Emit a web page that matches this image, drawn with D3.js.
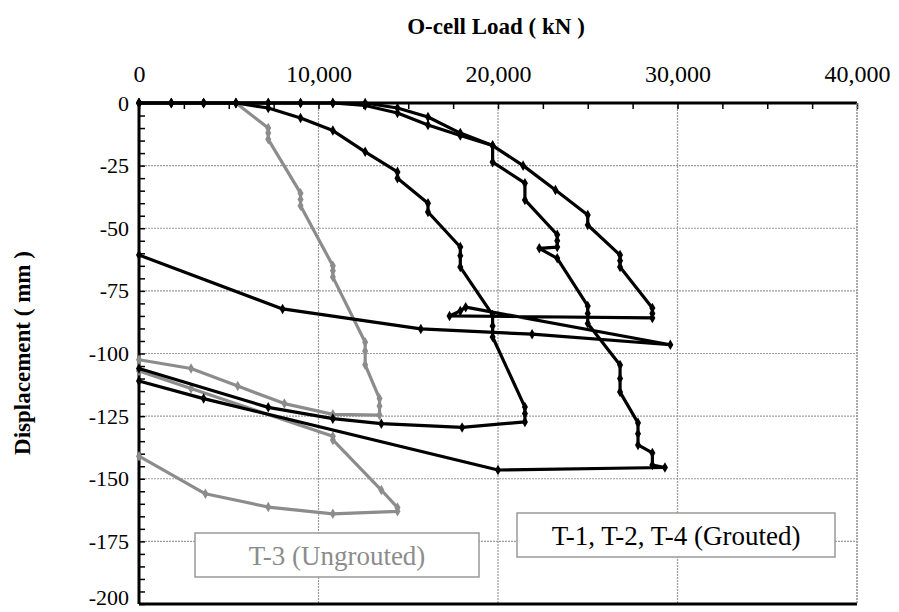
<!DOCTYPE html>
<html>
<head>
<meta charset="utf-8">
<script src="https://cdn.jsdelivr.net/npm/d3@7"></script>
<style>
  body { margin: 0; background: #fff; }
  svg { font-family: "Liberation Serif", "Times New Roman", serif; }
</style>
</head>
<body>
<svg width="899" height="612"></svg>
<script>
// O-cell load (kN) vs displacement (mm)
const loadTicks = [0, 10000, 20000, 30000, 40000];
const dispTicks = [0, -25, -50, -75, -100, -125, -150, -175, -200];

// grouted piles (black)
const t1Load = [0, 1800, 3600, 5400, 7200, 9000, 10800, 12600, 14400, 14400, 16100, 16100, 17900, 17900, 17900, 19700, 19700, 19700, 21500, 21500, 21500, 18000, 13500, 10800, 7200, 0];
const t1Disp = [0, 0, 0, 0, -2, -6, -11, -19.5, -27.5, -30, -40, -43.5, -57.5, -61, -65.5, -84.6, -89, -93.4, -121.4, -124, -127.3, -129.5, -128, -126, -121.5, -106];

const t2Load = [0, 1800, 3600, 5400, 7200, 9000, 10800, 12600, 14400, 16100, 17900, 19700, 19700, 21500, 21500, 23300, 23300, 23300, 22300, 23300, 25000, 25000, 25000, 26800, 26800, 26800, 27800, 27800, 27800, 28600, 28600, 29300, 20000, 3600, 0];
const t2Disp = [0, 0, 0, 0, 0, 0, 0, -1, -4, -8.8, -13, -17, -23.6, -32, -38.7, -52.6, -55, -57.5, -58, -62, -81, -84, -88, -104.6, -110, -115.4, -127.7, -132, -136.5, -139.7, -144.5, -145.5, -146.5, -118, -111];

const t4Load = [0, 1800, 3600, 5400, 7200, 9000, 10800, 12600, 14400, 16100, 17900, 19700, 21400, 23200, 25000, 25000, 26800, 26800, 26800, 28600, 28600, 28600, 17300, 17900, 18200, 29600, 21900, 15700, 8000, 0];
const t4Disp = [0, 0, 0, 0, 0, 0, 0, 0, -2, -5.6, -12, -17, -25, -34.7, -44.7, -48.7, -60.7, -63, -65.5, -81.8, -84, -85.8, -85, -83, -81.5, -96.5, -92.3, -90.2, -82.2, -60.7];

// ungrouted pile (grey)
const t3Load = [0, 1800, 3600, 5400, 7200, 7200, 7200, 9000, 9000, 9000, 10800, 10800, 10800, 12600, 12600, 12600, 13400, 13400, 13400, 10800, 8100, 5500, 2900, 0, 0, 2900, 10800, 10800, 13500, 14400, 14400, 10800, 7200, 3700, 0];
const t3Disp = [0, 0, 0, 0, -10, -12, -14.5, -36, -38.5, -41, -65, -67, -69.5, -95.5, -99, -104.5, -118, -121, -124.6, -124.3, -120, -113, -106, -102.5, -107, -114, -133, -134.5, -154.5, -161.5, -163, -164, -161.3, -156, -141];

const svg = d3.select("svg");
const pLeft = 139, pRight = 857, pTop = 103, pBottom = 604;

const x = d3.scaleLinear().domain([0, 40000]).range([pLeft, pRight]);
const y = d3.scaleLinear().domain([0, -200]).range([pTop, pBottom]);

// grid
const grid = svg.append("g");
grid.selectAll(".gx")
    .data(loadTicks.slice(1))
    .join("line")
    .attr("x1", d => x(d)).attr("x2", d => x(d))
    .attr("y1", pTop).attr("y2", pBottom)
    .attr("stroke", "#9a9a9a").attr("stroke-width", 1.2)
    .attr("stroke-dasharray", "2,1");
grid.selectAll(".gy")
    .data(dispTicks.slice(1, -1))
    .join("line")
    .attr("x1", pLeft).attr("x2", pRight)
    .attr("y1", d => y(d)).attr("y2", d => y(d))
    .attr("stroke", "#9a9a9a").attr("stroke-width", 1.2)
    .attr("stroke-dasharray", "2,1");

// minor ticks (inward)
svg.append("g")
    .attr("transform", `translate(0,${pTop})`)
    .call(d3.axisTop(x).tickValues(d3.range(0, 40001, 2500)).tickSize(-6).tickFormat(""))
    .call(g => g.select(".domain").remove())
    .selectAll("line").attr("stroke", "#000").attr("stroke-width", 1.5);
svg.append("g")
    .attr("transform", `translate(${pLeft},0)`)
    .call(d3.axisLeft(y).tickValues(d3.range(0, -201, -5)).tickSize(-6).tickFormat(""))
    .call(g => g.select(".domain").remove())
    .selectAll("line").attr("stroke", "#000").attr("stroke-width", 1.5);

// tick labels
svg.append("g")
    .attr("transform", `translate(0,${pTop})`)
    .call(d3.axisTop(x).tickValues(loadTicks).tickSize(0).tickPadding(21).tickFormat(d3.format(",")))
    .call(g => g.select(".domain").remove())
    .selectAll("text").attr("font-size", 24).attr("fill", "#000")
    .attr("font-family", "Liberation Serif, Times New Roman, serif");
svg.append("g")
    .attr("transform", `translate(${pLeft},0)`)
    .call(d3.axisLeft(y).tickValues(dispTicks).tickSize(0).tickPadding(10).tickFormat(d => d === 0 ? "0" : "-" + Math.abs(d)))
    .call(g => g.select(".domain").remove())
    .selectAll("text").attr("font-size", 22).attr("fill", "#000")
    .attr("dy", d => d === -200 ? "0em" : "0.32em")
    .attr("font-family", "Liberation Serif, Times New Roman, serif");

// frame
svg.append("line").attr("x1", pLeft).attr("x2", pRight).attr("y1", pTop).attr("y2", pTop)
    .attr("stroke", "#000").attr("stroke-width", 3);
svg.append("line").attr("x1", pLeft).attr("x2", pLeft).attr("y1", pTop).attr("y2", pBottom)
    .attr("stroke", "#000").attr("stroke-width", 3);
svg.append("line").attr("x1", pLeft).attr("x2", pRight).attr("y1", pBottom).attr("y2", pBottom)
    .attr("stroke", "#000").attr("stroke-width", 3);
svg.append("line").attr("x1", pRight).attr("x2", pRight).attr("y1", pTop).attr("y2", pBottom)
    .attr("stroke", "#9a9a9a").attr("stroke-width", 1.2).attr("stroke-dasharray", "2,1");

// titles
svg.append("text")
    .attr("x", 496).attr("y", 34)
    .attr("text-anchor", "middle")
    .attr("font-size", 23).attr("font-weight", "bold")
    .text("O-cell Load ( kN )");
svg.append("text")
    .attr("transform", "translate(30,353) rotate(-90)")
    .attr("text-anchor", "middle")
    .attr("font-size", 23).attr("font-weight", "bold")
    .text("Displacement ( mm )");

// series
const series = [
    { load: t3Load, disp: t3Disp, color: "#8c8c8c" },
    { load: t1Load, disp: t1Disp, color: "#000" },
    { load: t2Load, disp: t2Disp, color: "#000" },
    { load: t4Load, disp: t4Disp, color: "#000" }
];

const line = d3.line().x(d => x(d[0])).y(d => y(d[1]));

series.forEach(s => {
    const pts = s.load.map((v, i) => [v, s.disp[i]]);
    svg.append("path")
        .datum(pts)
        .attr("d", line)
        .attr("fill", "none")
        .attr("stroke", s.color)
        .attr("stroke-width", 3.2)
        .attr("stroke-linejoin", "round");
    svg.append("g")
        .selectAll("path")
        .data(pts)
        .join("path")
        .attr("d", d3.symbol(d3.symbolDiamond, 32))
        .attr("transform", d => `translate(${x(d[0])},${y(d[1])})`)
        .attr("fill", s.color);
});

// labels in boxes
const boxes = [
    { text: "T-3 (Ungrouted)", x0: 195, x1: 479, y0: 533, y1: 577, color: "#8c8c8c" },
    { text: "T-1, T-2, T-4 (Grouted)", x0: 517, x1: 835, y0: 513, y1: 557, color: "#000" }
];
boxes.forEach(b => {
    svg.append("rect")
        .attr("x", b.x0).attr("y", b.y0)
        .attr("width", b.x1 - b.x0).attr("height", b.y1 - b.y0)
        .attr("fill", "#fff").attr("stroke", "#999").attr("stroke-width", 1.5);
    svg.append("text")
        .attr("x", (b.x0 + b.x1) / 2).attr("y", b.y1 - 12)
        .attr("text-anchor", "middle")
        .attr("font-size", 27)
        .attr("fill", b.color)
        .text(b.text);
});
</script>
</body>
</html>
